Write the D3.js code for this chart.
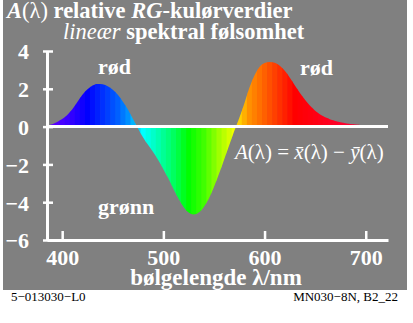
<!DOCTYPE html>
<html>
<head>
<meta charset="utf-8">
<script src="https://d3js.org/d3.v7.min.js"></script>
<style>
  body { margin: 0; background: #fff; }
  text { font-family: "Liberation Serif", "Times New Roman", serif; }
</style>
</head>
<body>
<script>
// wavelength (nm) and A(lambda) = xbar - ybar
var lambda = [385,390,395,400,405,410,415,420,425,430,435,440,445,450,455,460,465,470,475,480,
              485,490,495,500,505,510,515,520,525,530,535,540,545,550,555,560,565,570,575,580,
              585,590,595,600,605,610,615,620,625,630,635,640,645,650,655,660,665,670,675,680,
              685,690,695,700,705,710,715,720];
var aValues = [0.05,0.12,0.25,0.40,0.62,0.92,1.30,1.68,1.98,2.18,2.26,2.24,2.14,1.95,1.68,1.32,0.90,0.40,-0.10,-0.58,
               -0.98,-1.36,-1.78,-2.25,-2.75,-3.30,-3.82,-4.25,-4.55,-4.65,-4.55,-4.25,-3.80,-3.20,-2.50,-1.75,-1.00,-0.25,0.45,1.22,
               2.05,2.70,3.15,3.36,3.42,3.38,3.22,2.95,2.58,2.18,1.78,1.42,1.10,0.84,0.64,0.49,0.38,0.30,0.23,0.18,
               0.14,0.11,0.09,0.07,0.06,0.05,0.04,0.03];
var xTicks = [400,500,600,700];
var yTicks = [-6,-4,-2,0,2,4];
// spectral colour stops
var colorWl  = [385,410,425,440,455,465,475,480,495,510,525,540,555,570,575,585,600,615,630,680,720];
var colorHex = ["#6a00ff","#3000ff","#0000ff","#0030ff","#0060ff","#0090ff","#00d8ff","#00ffff","#00ffb0","#00ff60",
                "#00ff00","#40ff00","#a0ff00","#f0ff00","#ffd000","#ff9000","#ff6000","#ff3000","#ff0000","#ff0030","#ff0040"];

var data = lambda.map(function(l,i){ return {l:l, a:aValues[i]}; });

var w = 413, h = 323;
var svg = d3.select("body").append("svg").attr("width",w).attr("height",h);

svg.append("rect").attr("x",3).attr("y",0).attr("width",404).attr("height",290).attr("fill","#808080");

var x = d3.scaleLinear().domain([385,722]).range([47,388]);
var y = d3.scaleLinear().domain([-6,4]).range([240,51]);
var col = d3.scaleLinear().domain(colorWl).range(colorHex).interpolate(d3.interpolateRgb);

var area = d3.area().x(function(d){return x(d.l);}).y0(y(0)).y1(function(d){return y(d.a);}).curve(d3.curveMonotoneX);

svg.append("clipPath").attr("id","curveClip").append("path").attr("d",area(data));

svg.append("g").attr("clip-path","url(#curveClip)")
  .selectAll("rect").data(data).enter().append("rect")
  .attr("x",function(d){return x(d.l-2.5);})
  .attr("width",function(d){return x(d.l+2.5)-x(d.l-2.5)+0.6;})
  .attr("y",y(4)).attr("height",y(-6)-y(4))
  .attr("fill",function(d){return col(d.l);});

// zero line
svg.append("line").attr("x1",x(385)).attr("x2",x(722)).attr("y1",y(0)).attr("y2",y(0))
  .attr("stroke","#fff").attr("stroke-width",3);

var yAxis = d3.axisLeft(y).tickValues(yTicks).tickSizeInner(4).tickSizeOuter(0).tickPadding(14);
var gy = svg.append("g").attr("transform","translate(47,0)").call(yAxis);
gy.selectAll(".tick line").attr("x1",6);
var xAxis = d3.axisBottom(x).tickValues(xTicks).tickSizeInner(-9).tickSizeOuter(0).tickPadding(9);
var gx = svg.append("g").attr("transform","translate(0,240)").call(xAxis);

svg.selectAll(".domain").attr("stroke","#fff").attr("stroke-width",3);
svg.selectAll(".tick line").attr("stroke","#fff").attr("stroke-width",2.5);
svg.selectAll(".tick text").attr("fill","#fff").style("font-size","22px").style("font-weight","bold")
  .style("font-family","'Liberation Serif', serif");
gy.selectAll(".tick text").attr("dy","0.36em");

// title
var t1 = svg.append("text").attr("x",7).attr("y",18).attr("fill","#fff").style("font-size","22.5px");
t1.append("tspan").style("font-style","italic").style("font-weight","bold").text("A");
t1.append("tspan").text("(λ) ");
t1.append("tspan").style("font-weight","bold").text("relative ");
t1.append("tspan").style("font-style","italic").style("font-weight","bold").text("RG");
t1.append("tspan").style("font-weight","bold").text("-kulørverdier");
var t2 = svg.append("text").attr("x",63).attr("y",39).attr("fill","#fff").style("font-size","22.5px");
t2.append("tspan").style("font-style","italic").text("lineær ");
t2.append("tspan").style("font-weight","bold").text("spektral følsomhet");

// labels inside
function label(tx,ty,s){
  svg.append("text").attr("x",tx).attr("y",ty).attr("fill","#fff").style("font-size","22px")
    .style("font-weight","bold").text(s);
}
label(98,74,"rød");
label(300,75,"rød");
label(98,214,"grønn");

var f = svg.append("text").attr("x",235).attr("y",159).attr("fill","#fff").style("font-size","21px").style("font-style","italic");
f.append("tspan").text("A");
f.append("tspan").style("font-style","normal").text("(λ) = ");
f.append("tspan").text("x\u0304");
f.append("tspan").style("font-style","normal").text("(λ) − ");
f.append("tspan").text("y\u0304");
f.append("tspan").style("font-style","normal").text("(λ)");

// x axis title
svg.append("text").attr("x",216).attr("y",285).attr("text-anchor","middle").attr("fill","#fff")
  .style("font-size","23px").style("font-weight","bold").text("bølgelengde λ/nm");

// footer
svg.append("text").attr("x",11).attr("y",301).style("font-size","13px").attr("fill","#000").text("5−013030−L0");
svg.append("text").attr("x",398).attr("y",301).attr("text-anchor","end").style("font-size","13px").attr("fill","#000").text("MN030−8N, B2_22");
</script>
</body>
</html>
